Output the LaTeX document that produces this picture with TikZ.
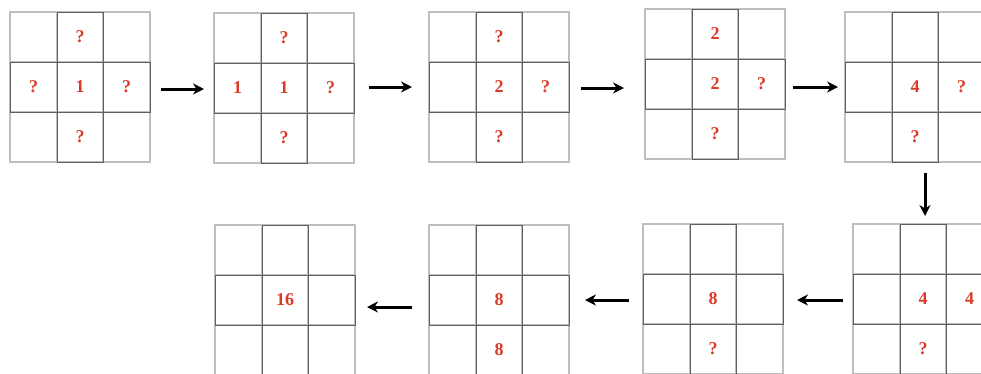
\documentclass[tikz,border=0pt]{standalone}
\usepackage{fontspec}
\setmainfont{Liberation Serif}
\usetikzlibrary{arrows.meta}
\definecolor{numred}{RGB}{218,58,40}
\definecolor{lightline}{RGB}{190,190,190}
\definecolor{darkline}{RGB}{95,95,95}
\tikzset{
  gridbox/.style={inner sep=0pt, minimum width=140pt, minimum height=150pt},
  outerline/.style={draw=lightline, line width=1.2pt},
  crossline/.style={draw=darkline, line width=1pt},
  num/.style={text=numred, font=\fontsize{18}{18}\selectfont\bfseries, inner sep=0pt},
  flow/.style={line width=3pt, -{Stealth[length=11pt,width=11pt]}}
}
\newcommand\gridat[8]{% name, x, y, top, left, center, right, bottom
  \begin{scope}[shift={(#2,#3)}]
    \node[gridbox] (#1) at (70,75) {};
    \draw[outerline] (0,0) rectangle (140,150);
    \draw[outerline] (47,0) -- (47,150) (93,0) -- (93,150)
                     (0,50) -- (140,50) (0,100) -- (140,100);
    \draw[crossline] (47,0) rectangle (93,150);
    \draw[crossline] (0,50) rectangle (140,100);
    \node[num] (#1-t) at (70,25) {#4};
    \node[num] (#1-l) at (23.5,75) {#5};
    \node[num] (#1-c) at (70,75) {#6};
    \node[num] (#1-r) at (116.5,75) {#7};
    \node[num] (#1-b) at (70,125) {#8};
  \end{scope}}
\begin{document}
\begin{tikzpicture}[x=1pt,y=-1pt]
  \useasboundingbox (0,0) rectangle (981,373);
  \clip (0,0) rectangle (981,373);
  \gridat{g1}{10}{12}{?}{?}{1}{?}{?}
  \gridat{g2}{214}{13}{?}{1}{1}{?}{?}
  \gridat{g3}{429}{12}{?}{}{2}{?}{?}
  \gridat{g4}{645}{9}{2}{}{2}{?}{?}
  \gridat{g5}{845}{12}{}{}{4}{?}{?}
  \gridat{g6}{853}{224}{}{}{4}{4}{?}
  \gridat{g7}{643}{224}{}{}{8}{}{?}
  \gridat{g8}{429}{225}{}{}{8}{}{8}
  \gridat{g9}{215}{225}{}{}{16}{}{}
  \coordinate (a1s) at (161,89);  \coordinate (a1e) at (204,89);
  \coordinate (a2s) at (369,87);  \coordinate (a2e) at (412,87);
  \coordinate (a3s) at (581,88);  \coordinate (a3e) at (624,88);
  \coordinate (a4s) at (793,87);  \coordinate (a4e) at (838,87);
  \coordinate (a5s) at (925,173); \coordinate (a5e) at (925,216);
  \coordinate (a6s) at (843,300); \coordinate (a6e) at (797,300);
  \coordinate (a7s) at (629,300); \coordinate (a7e) at (585,300);
  \coordinate (a8s) at (412,307); \coordinate (a8e) at (367,307);
  \draw[flow] (a1s) -- (a1e);
  \draw[flow] (a2s) -- (a2e);
  \draw[flow] (a3s) -- (a3e);
  \draw[flow] (a4s) -- (a4e);
  \draw[flow] (a5s) -- (a5e);
  \draw[flow] (a6s) -- (a6e);
  \draw[flow] (a7s) -- (a7e);
  \draw[flow] (a8s) -- (a8e);
\end{tikzpicture}
\end{document}
